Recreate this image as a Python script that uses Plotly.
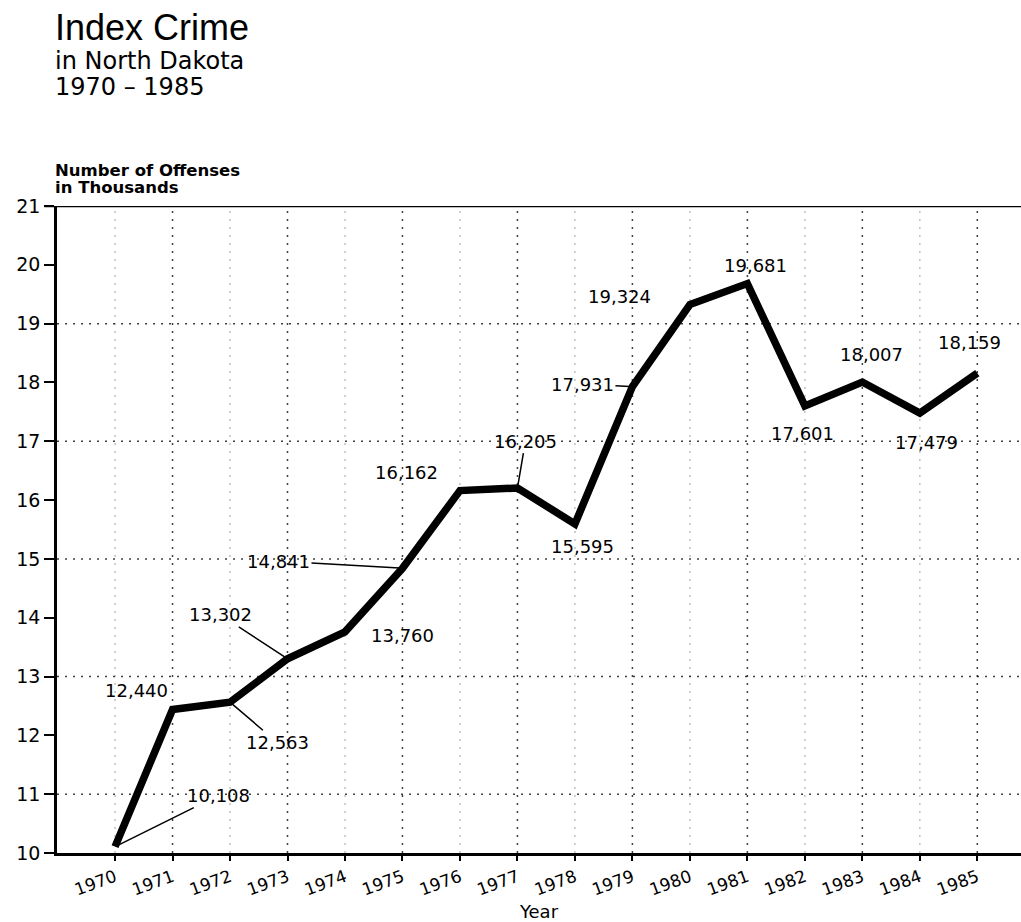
import plotly.graph_objects as go

# Index crime totals, North Dakota (offenses, in thousands)
years = list(range(1970, 1986))
offenses = [10.108, 12.440, 12.563, 13.302, 13.760, 14.841, 16.162, 16.205,
            15.595, 17.931, 19.324, 19.681, 17.601, 18.007, 17.479, 18.159]
labels = ["10,108", "12,440", "12,563", "13,302", "13,760", "14,841", "16,162", "16,205",
          "15,595", "17,931", "19,324", "19,681", "17,601", "18,007", "17,479", "18,159"]

# label placement: pixel offset of the text from its point (x right, y down);
# leader=True draws a thin line from the text to the point
label_offsets = [(103, -51, True), (-36, -19, False), (47, 40, True), (-67, -44, True),
                 (58, 4, False), (-124, -7, True), (-53, -18, False), (8, -47, True),
                 (8, 23, False), (-50, -2, True), (-70, -8, False), (8, -18, False),
                 (-2, 28, False), (9, -28, False), (7, 29, False), (-8, -31, False)]

FONT = "DejaVu Sans"

fig = go.Figure(go.Scatter(
    x=years, y=offenses,
    mode="lines",
    line=dict(color="black", width=7.5),
    hoverinfo="skip",
))

# dotted grid: odd years / odd values are the stronger ones
for yr in years:
    col = "rgba(0,0,0,0.75)" if yr % 2 else "rgba(0,0,0,0.25)"
    fig.add_vline(x=yr, line=dict(color=col, width=1.5, dash="2px,6px"), layer="below")
for v in range(11, 21, 2):
    fig.add_hline(y=v, line=dict(color="rgba(0,0,0,0.75)", width=1.5, dash="2px,6px"), layer="below")

# top frame line at 21
fig.add_shape(type="line", xref="paper", yref="y", x0=-0.013, x1=1, y0=21, y1=21,
              line=dict(color="black", width=2.5))

for yr, v, txt, (dx, dy, leader) in zip(years, offenses, labels, label_offsets):
    if leader:
        fig.add_annotation(x=yr, y=v, text=txt, showarrow=True, ax=dx, ay=dy,
                           arrowhead=0, arrowwidth=1.5, arrowcolor="black", standoff=3,
                           font=dict(family=FONT, size=18, color="black"))
    else:
        fig.add_annotation(x=yr, y=v, text=txt, showarrow=False, xshift=dx, yshift=-dy,
                           font=dict(family=FONT, size=18, color="black"))


# titles
def top_text(text, y_px, size, family=FONT):
    # y_px: vertical centre of the text, in pixels from the top of the page
    fig.add_annotation(xref="paper", yref="paper", x=-0.004, y=1.0, xanchor="left",
                       yanchor="middle", yshift=206 - y_px, showarrow=False, text=text,
                       font=dict(family=family, size=size, color="black"))


top_text("Index Crime", 27, 36, "Liberation Sans")
top_text("in North Dakota", 61, 24)
top_text("1970 – 1985", 87, 24)
top_text("<b>Number of Offenses</b>", 170, 16.5)
top_text("<b>in Thousands</b>", 187, 16.5)

fig.update_layout(
    width=1021, height=922,
    margin=dict(l=57, r=0, t=206, b=69),
    plot_bgcolor="white", paper_bgcolor="white",
    showlegend=False,
    xaxis=dict(
        range=[1968.99, 1985.76],
        tickvals=years, ticktext=[str(y) for y in years],
        tickangle=-20, ticks="outside", ticklen=5, tickwidth=1.5, tickcolor="black",
        showgrid=False, zeroline=False, automargin=False,
        showline=True, linecolor="black", linewidth=3,
        tickfont=dict(family=FONT, size=17, color="black"),
        title=dict(text="Year", font=dict(family=FONT, size=18, color="black"), standoff=14),
    ),
    yaxis=dict(
        range=[10, 21],
        tickvals=list(range(10, 22)),
        ticks="outside", ticklen=10, tickwidth=2, tickcolor="black",
        showgrid=False, zeroline=False, automargin=False,
        showline=True, linecolor="black", linewidth=2.5,
        tickfont=dict(family=FONT, size=19, color="black"),
    ),
)

# drop the browser's default body margin so the figure sits at the page corner
fig.write_html("out.html", config={"displayModeBar": False},
               post_script="document.body.style.margin='0';"
                           "document.body.style.overflow='hidden';")
